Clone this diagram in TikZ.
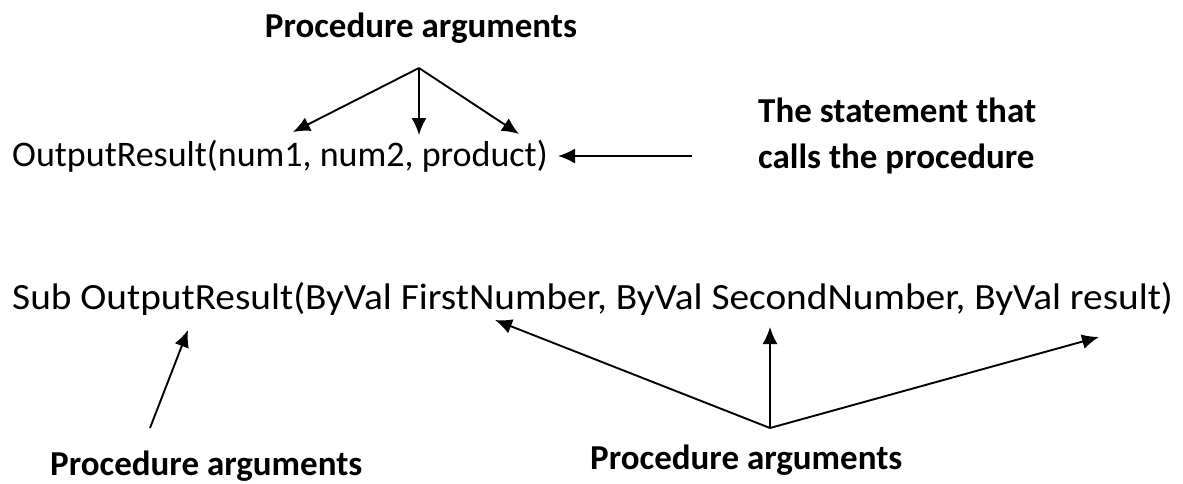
\documentclass[tikz,border=0pt]{standalone}
\usepackage{fontspec}
\setmainfont{Carlito}
\usetikzlibrary{arrows.meta}
\begin{document}
\begin{tikzpicture}[x=1pt,y=-1pt,
  lbl/.style={font=\fontsize{35}{40}\selectfont\bfseries, inner sep=0pt},
  code/.style={font=\fontsize{36}{42}\selectfont, inner sep=0pt},
  arr/.style={line width=1.9pt, -{Latex[length=17pt,width=15pt]}}]
\useasboundingbox (0,0) rectangle (1183,483);
\node[lbl, anchor=base] (topl) at (421,37) {Procedure arguments};
\node[code, anchor=base west] (call) at (12,166) {OutputResult(num1, num2, product)};
\node[lbl, anchor=base west] (st1) at (758,122) {The statement that};
\node[lbl, anchor=base west] (st2) at (758,168) {calls the procedure};
\node[code, anchor=base west] (sub) at (12,309) {\scalebox{1.063}[1]{\fontsize{37}{42}\selectfont Sub OutputResult(ByVal FirstNumber, ByVal SecondNumber, ByVal result)}};
\node[lbl, anchor=base west] (bl) at (50,475) {Procedure arguments};
\node[lbl, anchor=base west] (bm) at (590,469) {Procedure arguments};
\coordinate (apex) at (419,68);
\coordinate (t1) at (293,132);
\coordinate (t2) at (419,135);
\coordinate (t3) at (519,134);
\coordinate (cs) at (692,156);
\coordinate (ce) at (558,156);
\coordinate (bls) at (150,428);
\coordinate (ble) at (188,330);
\coordinate (bms) at (770,428);
\coordinate (b1) at (495,320);
\coordinate (b2) at (770,327);
\coordinate (b3) at (1099,337);
\draw[arr] (apex) -- (t1);
\draw[arr] (apex) -- (t2);
\draw[arr] (apex) -- (t3);
\draw[arr] (cs) -- (ce);
\draw[arr] (bls) -- (ble);
\draw[arr] (bms) -- (b1);
\draw[arr] (bms) -- (b2);
\draw[arr] (bms) -- (b3);
\end{tikzpicture}
\end{document}
